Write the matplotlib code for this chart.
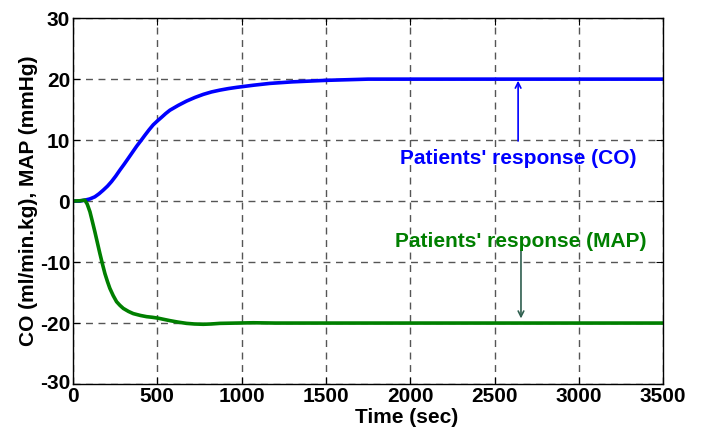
import matplotlib
matplotlib.use("Agg")
import matplotlib.pyplot as plt
from matplotlib.transforms import ScaledTranslation

plt.rcParams['font.family'] = ['Liberation Sans', 'DejaVu Sans']
plt.rcParams['font.weight'] = 'bold'
plt.rcParams['axes.unicode_minus'] = False

# Data
t_co = [0, 40, 71, 100, 130, 155, 180, 205, 229, 254, 279, 304, 328, 353, 378, 403, 427,
        452, 476, 501, 526, 550, 575, 625, 674, 724, 773, 822, 872, 922, 971, 1070, 1168,
        1300, 1500, 1750, 2000, 2500, 3000, 3500]
co = [0, 0, 0.16, 0.35, 0.7, 1.2, 1.8, 2.45, 3.2, 4.1, 5.1, 6.05, 7.0, 8.0, 9.0, 9.9, 10.8,
      11.7, 12.5, 13.15, 13.75, 14.35, 14.9, 15.7, 16.4, 17.0, 17.5, 17.9, 18.2, 18.45, 18.65,
      19.0, 19.3, 19.55, 19.8, 20.0, 20.0, 20.0, 20.0, 20.0]

t_map = [0, 40, 71, 85, 101, 115, 130, 145, 160, 175, 190, 205, 219, 239, 259, 279, 299,
         330, 358, 400, 437, 470, 506, 540, 575, 625, 674, 720, 773, 820, 872, 971, 1070,
         1200, 1500, 2000, 2500, 3000, 3500]
map_ = [0, 0.05, 0.16, -0.5, -1.75, -3.3, -5.0, -6.8, -8.6, -10.3, -11.9, -13.2, -14.3,
        -15.5, -16.5, -17.1, -17.6, -18.1, -18.45, -18.75, -18.95, -19.05, -19.2, -19.4,
        -19.6, -19.85, -20.05, -20.15, -20.2, -20.15, -20.05, -20.0, -19.95, -20.0, -20.0,
        -20.0, -20.0, -20.0, -20.0]

xticks = [0, 500, 1000, 1500, 2000, 2500, 3000, 3500]
yticks = [-30, -20, -10, 0, 10, 20, 30]

fig = plt.figure(figsize=(7.01, 4.32), dpi=100)
ax = fig.add_axes([0.104, 0.111, 0.842, 0.847])

ax.plot(t_co, co, color='#0000ff', lw=2.6, solid_capstyle='butt')
ax.plot(t_map, map_, color='#007f00', lw=2.6, solid_capstyle='butt')

ax.set_xlim(0, 3500)
ax.set_ylim(-30, 30)
ax.set_xticks(xticks)
ax.set_yticks(yticks)
ax.tick_params(direction='in', top=True, right=True, labelsize=15, length=5, pad=2)
for lab in ax.get_xticklabels() + ax.get_yticklabels():
    lab.set_fontweight('bold')
ylabs = ax.get_yticklabels()
ylabs[0].set_transform(ylabs[0].get_transform() +
                       ScaledTranslation(0, 3 / 100, fig.dpi_scale_trans))
ax.grid(True, color='#555555', linestyle=(0, (5, 4)), lw=1.0)
for s in ax.spines.values():
    s.set_linewidth(1.0)

ax.set_xlabel('Time (sec)', fontsize=15, fontweight='bold', labelpad=7)
ax.xaxis.set_label_coords(0.566, -0.065, transform=ax.transAxes)
ax.xaxis.label.set_va('top')
ax.set_ylabel('CO (ml/min.kg), MAP (mmHg)', fontsize=15, fontweight='bold', labelpad=1.5)

ax.annotate('', xy=(2640, 20.2), xytext=(2640, 9.4),
            arrowprops=dict(arrowstyle='->', color='#0000ff', lw=1.2))
ax.text(2640, 7.0, "Patients' response (CO)", color='#0000ff', fontsize=15,
        fontweight='bold', ha='center', va='center')

ax.annotate('', xy=(2657, -19.7), xytext=(2657, -7.6),
            arrowprops=dict(arrowstyle='->', color='#2f5f4f', lw=1.2))
ax.text(2655, -6.7, "Patients' response (MAP)", color='#007f00', fontsize=15,
        fontweight='bold', ha='center', va='center')

fig.savefig('out.png', dpi=100)
